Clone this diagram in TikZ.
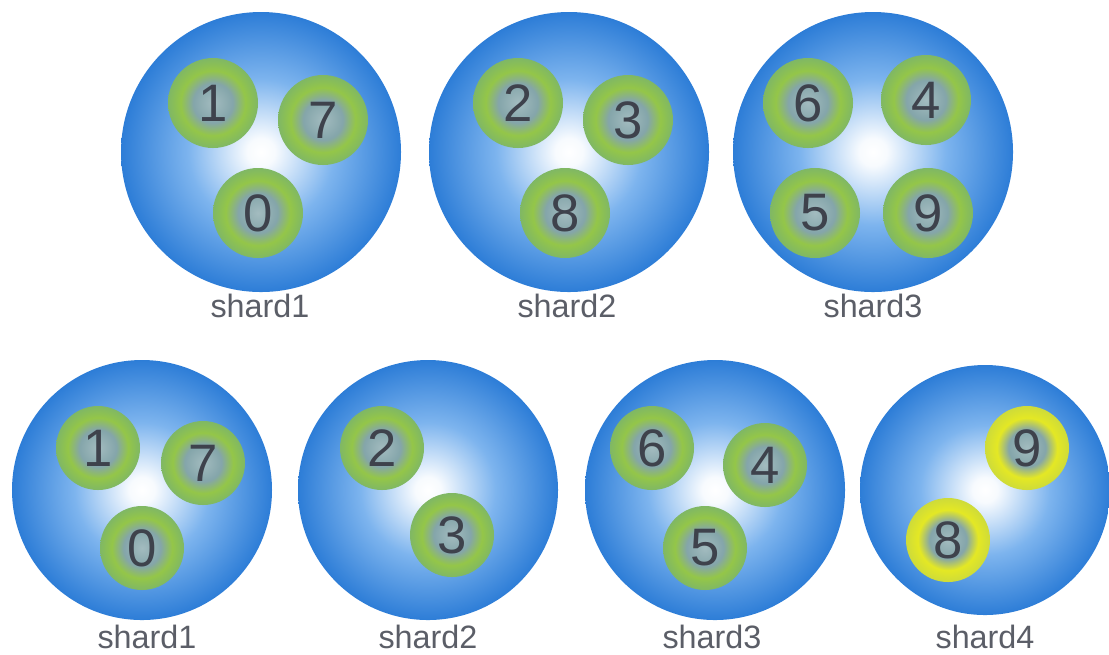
\documentclass[tikz,border=0pt]{standalone}
\usepackage{fontspec}
\setmainfont{Liberation Sans}
\definecolor{shardedge}{RGB}{45,125,215}
\definecolor{shardmid}{RGB}{125,180,238}
\definecolor{chunkcore}{RGB}{132,165,170}
\definecolor{chunkgreen}{RGB}{148,198,72}
\definecolor{chunkyellow}{RGB}{228,232,36}
\definecolor{digitgray}{RGB}{62,66,76}
\pgfdeclareradialshading{shardglow}{\pgfpoint{0bp}{0bp}}{%
  color(0bp)=(white); color(2.5bp)=(white!94!shardmid);
  color(13bp)=(shardmid); color(25bp)=(shardedge); color(50bp)=(shardedge)}
\pgfdeclareradialshading{chunkglow}{\pgfpoint{0bp}{0bp}}{%
  color(0bp)=(chunkcore!75!white); color(11bp)=(chunkcore);
  color(18bp)=(chunkgreen); color(25bp)=(chunkgreen!80!shardedge);
  color(50bp)=(chunkgreen!80!shardedge)}
\pgfdeclareradialshading{movedglow}{\pgfpoint{0bp}{0bp}}{%
  color(0bp)=(chunkcore!75!white); color(11bp)=(chunkcore);
  color(18bp)=(chunkyellow); color(25bp)=(chunkyellow!88!shardedge);
  color(50bp)=(chunkyellow!88!shardedge)}
\begin{document}
\begin{tikzpicture}[
    shard/.style={circle, inner sep=0pt, shading=shardglow},
    chunk/.style={circle, inner sep=0pt, shading=chunkglow, text=digitgray,
      font=\fontsize{15}{15}\selectfont},
    moved/.style={chunk, shading=movedglow},
    tag/.style={text=digitgray!85!white, font=\fontsize{9.2}{11}\selectfont}]
  \useasboundingbox (0,0) rectangle (11.09,-6.54);
  % 上：三个分片
  \node[shard, minimum size=2.8cm] (sA) at (2.61,-1.52) {};
  \node[shard, minimum size=2.8cm] (sB) at (5.69,-1.52) {};
  \node[shard, minimum size=2.8cm] (sC) at (8.73,-1.52) {};
  \node[tag] (tA) at (2.60,-3.06) {shard1};
  \node[tag] (tB) at (5.67,-3.06) {shard2};
  \node[tag] (tC) at (8.73,-3.06) {shard3};
  \node[chunk, minimum size=0.9cm] (a1) at (2.13,-1.03) {1};
  \node[chunk, minimum size=0.9cm] (a7) at (3.23,-1.20) {7};
  \node[chunk, minimum size=0.9cm] (a0) at (2.58,-2.13) {0};
  \node[chunk, minimum size=0.9cm] (b2) at (5.18,-1.03) {2};
  \node[chunk, minimum size=0.9cm] (b3) at (6.28,-1.20) {3};
  \node[chunk, minimum size=0.9cm] (b8) at (5.65,-2.13) {8};
  \node[chunk, minimum size=0.9cm] (c6) at (8.08,-1.03) {6};
  \node[chunk, minimum size=0.9cm] (c4) at (9.26,-1.00) {4};
  \node[chunk, minimum size=0.9cm] (c5) at (8.15,-2.13) {5};
  \node[chunk, minimum size=0.9cm] (c9) at (9.28,-2.13) {9};
  % 下：加入 shard4 之后
  \node[shard, minimum size=2.6cm] (sD) at (1.42,-4.90) {};
  \node[shard, minimum size=2.6cm] (sE) at (4.28,-4.90) {};
  \node[shard, minimum size=2.6cm] (sF) at (7.15,-4.90) {};
  \node[shard, minimum size=2.5cm] (sG) at (9.85,-4.90) {};
  \node[tag] (tD) at (1.47,-6.37) {shard1};
  \node[tag] (tE) at (4.28,-6.37) {shard2};
  \node[tag] (tF) at (7.12,-6.37) {shard3};
  \node[tag] (tG) at (9.85,-6.37) {shard4};
  \node[chunk, minimum size=0.84cm] (d1) at (0.98,-4.48) {1};
  \node[chunk, minimum size=0.84cm] (d7) at (2.03,-4.63) {7};
  \node[chunk, minimum size=0.84cm] (d0) at (1.42,-5.48) {0};
  \node[chunk, minimum size=0.84cm] (e2) at (3.82,-4.48) {2};
  \node[chunk, minimum size=0.84cm] (e3) at (4.52,-5.35) {3};
  \node[chunk, minimum size=0.84cm] (f6) at (6.52,-4.48) {6};
  \node[chunk, minimum size=0.84cm] (f4) at (7.65,-4.65) {4};
  \node[chunk, minimum size=0.84cm] (f5) at (7.05,-5.48) {5};
  \node[moved, minimum size=0.84cm] (g9) at (10.27,-4.48) {9};
  \node[moved, minimum size=0.84cm] (g8) at (9.48,-5.40) {8};
\end{tikzpicture}
\end{document}
